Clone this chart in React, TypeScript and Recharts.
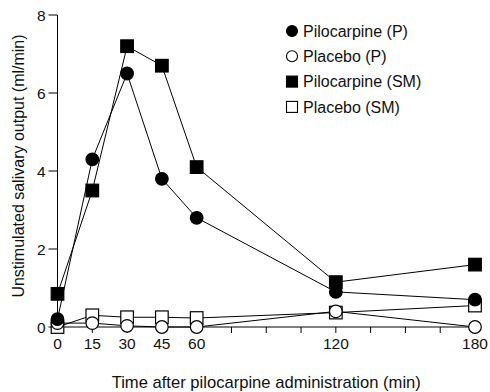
import { LineChart, Line, XAxis, YAxis } from "recharts";

// minutes after administration
const times = [0, 15, 30, 45, 60, 120, 180];
const pilocarpineP = [0.2, 4.3, 6.5, 3.8, 2.8, 0.9, 0.7];
const placeboP = [0.1, 0.1, 0.03, 0.0, 0.0, 0.4, 0.0];
const pilocarpineSM = [0.85, 3.5, 7.2, 6.7, 4.1, 1.15, 1.6];
const placeboSM = [0.0, 0.3, 0.25, 0.25, 0.23, 0.37, 0.55];

const xTicks = [0, 15, 30, 45, 60, 75, 90, 105, 120, 135, 150, 165, 180];
const xLabels = [0, 15, 30, 45, 60, 120, 180];
const yTicks = [0, 2, 4, 6, 8];

const seriesNames = ["Pilocarpine (P)", "Placebo (P)", "Pilocarpine (SM)", "Placebo (SM)"];

const FONT = "'Liberation Sans', Arial, Helvetica, sans-serif";

const data = times.map((t, i) => ({
  t,
  pp: pilocarpineP[i],
  plp: placeboP[i],
  psm: pilocarpineSM[i],
  plsm: placeboSM[i],
}));

type Shape = "circle" | "square";

function marker(shape: Shape, filled: boolean) {
  return (props: any) => {
    const { cx, cy, index } = props;
    if (cx == null || cy == null) return null;
    const fill = filled ? "#000" : "#fff";
    if (shape === "circle") {
      return <circle key={index} cx={cx} cy={cy} r={6.3} fill={fill} stroke="#000" strokeWidth={1.2} />;
    }
    return (
      <rect key={index} x={cx - 6.3} y={cy - 6.3} width={12.6} height={12.6} fill={fill} stroke="#000" strokeWidth={1.2} />
    );
  };
}

function LegendMark({ shape, filled, x, y }: { shape: Shape; filled: boolean; x: number; y: number }) {
  const fill = filled ? "#000" : "#fff";
  if (shape === "circle") return <circle cx={x} cy={y} r={5.5} fill={fill} stroke="#000" strokeWidth={1.1} />;
  return <rect x={x - 5.5} y={y - 5.5} width={11} height={11} fill={fill} stroke="#000" strokeWidth={1.1} />;
}

const legendShapes: [Shape, boolean][] = [
  ["circle", true],
  ["circle", false],
  ["square", true],
  ["square", false],
];

function ChartLegend() {
  return (
    <svg width={200} height={100} style={{ position: "absolute", top: 19, left: 284 }}>
      {seriesNames.map((name, i) => (
        <g key={name}>
          <LegendMark shape={legendShapes[i][0]} filled={legendShapes[i][1]} x={8} y={12 + i * 25.3} />
          <text x={19} y={12 + i * 25.3} dy="0.36em" fontSize={16} fontFamily={FONT} fill="#111">
            {name}
          </text>
        </g>
      ))}
    </svg>
  );
}

function XTick(props: any) {
  const { x, y, payload } = props;
  if (!xLabels.includes(payload.value)) return null;
  return (
    <text x={x} y={y + 14} textAnchor="middle" fontSize={15.5} fontFamily={FONT} fill="#111">
      {payload.value}
    </text>
  );
}

function YLabel(props: any) {
  const { viewBox } = props;
  const cy = viewBox.y + viewBox.height / 2 - 5;
  return (
    <text x={18} y={cy} transform={`rotate(-90, 18, ${cy})`} textAnchor="middle" dy="0.36em" fontSize={16} fontFamily={FONT} fill="#111">
      Unstimulated salivary output (ml/min)
    </text>
  );
}

export default function App() {
  return (
    <div style={{ position: "relative", width: 490, height: 392, background: "#fff" }}>
      <style>{"body{margin:0}"}</style>
      <LineChart width={490} height={392} data={data} margin={{ top: 15, right: 15, bottom: 0, left: 0 }}>
        <XAxis
          dataKey="t"
          type="number"
          domain={[0, 180]}
          ticks={xTicks}
          tickSize={6}
          tick={<XTick />}
          height={65}
          stroke="#000"
          interval={0}
          label={{
            value: "Time after pilocarpine administration (min)",
            position: "insideBottom",
            offset: 4,
            fontSize: 16.6,
            fontFamily: FONT,
            fill: "#111",
          }}
        />
        <YAxis
          type="number"
          domain={[0, 8]}
          ticks={yTicks}
          width={57.5}
          tickSize={9}
          tickMargin={3}
          stroke="#000"
          tick={{ fontSize: 15.5, fontFamily: FONT, fill: "#111" }}
          label={<YLabel />}
        />
        <Line dataKey="plsm" stroke="#000" strokeWidth={1} dot={marker("square", false)} isAnimationActive={false} />
        <Line dataKey="plp" stroke="#000" strokeWidth={1} dot={marker("circle", false)} isAnimationActive={false} />
        <Line dataKey="psm" stroke="#000" strokeWidth={1} dot={marker("square", true)} isAnimationActive={false} />
        <Line dataKey="pp" stroke="#000" strokeWidth={1} dot={marker("circle", true)} isAnimationActive={false} />
      </LineChart>
      <ChartLegend />
    </div>
  );
}
